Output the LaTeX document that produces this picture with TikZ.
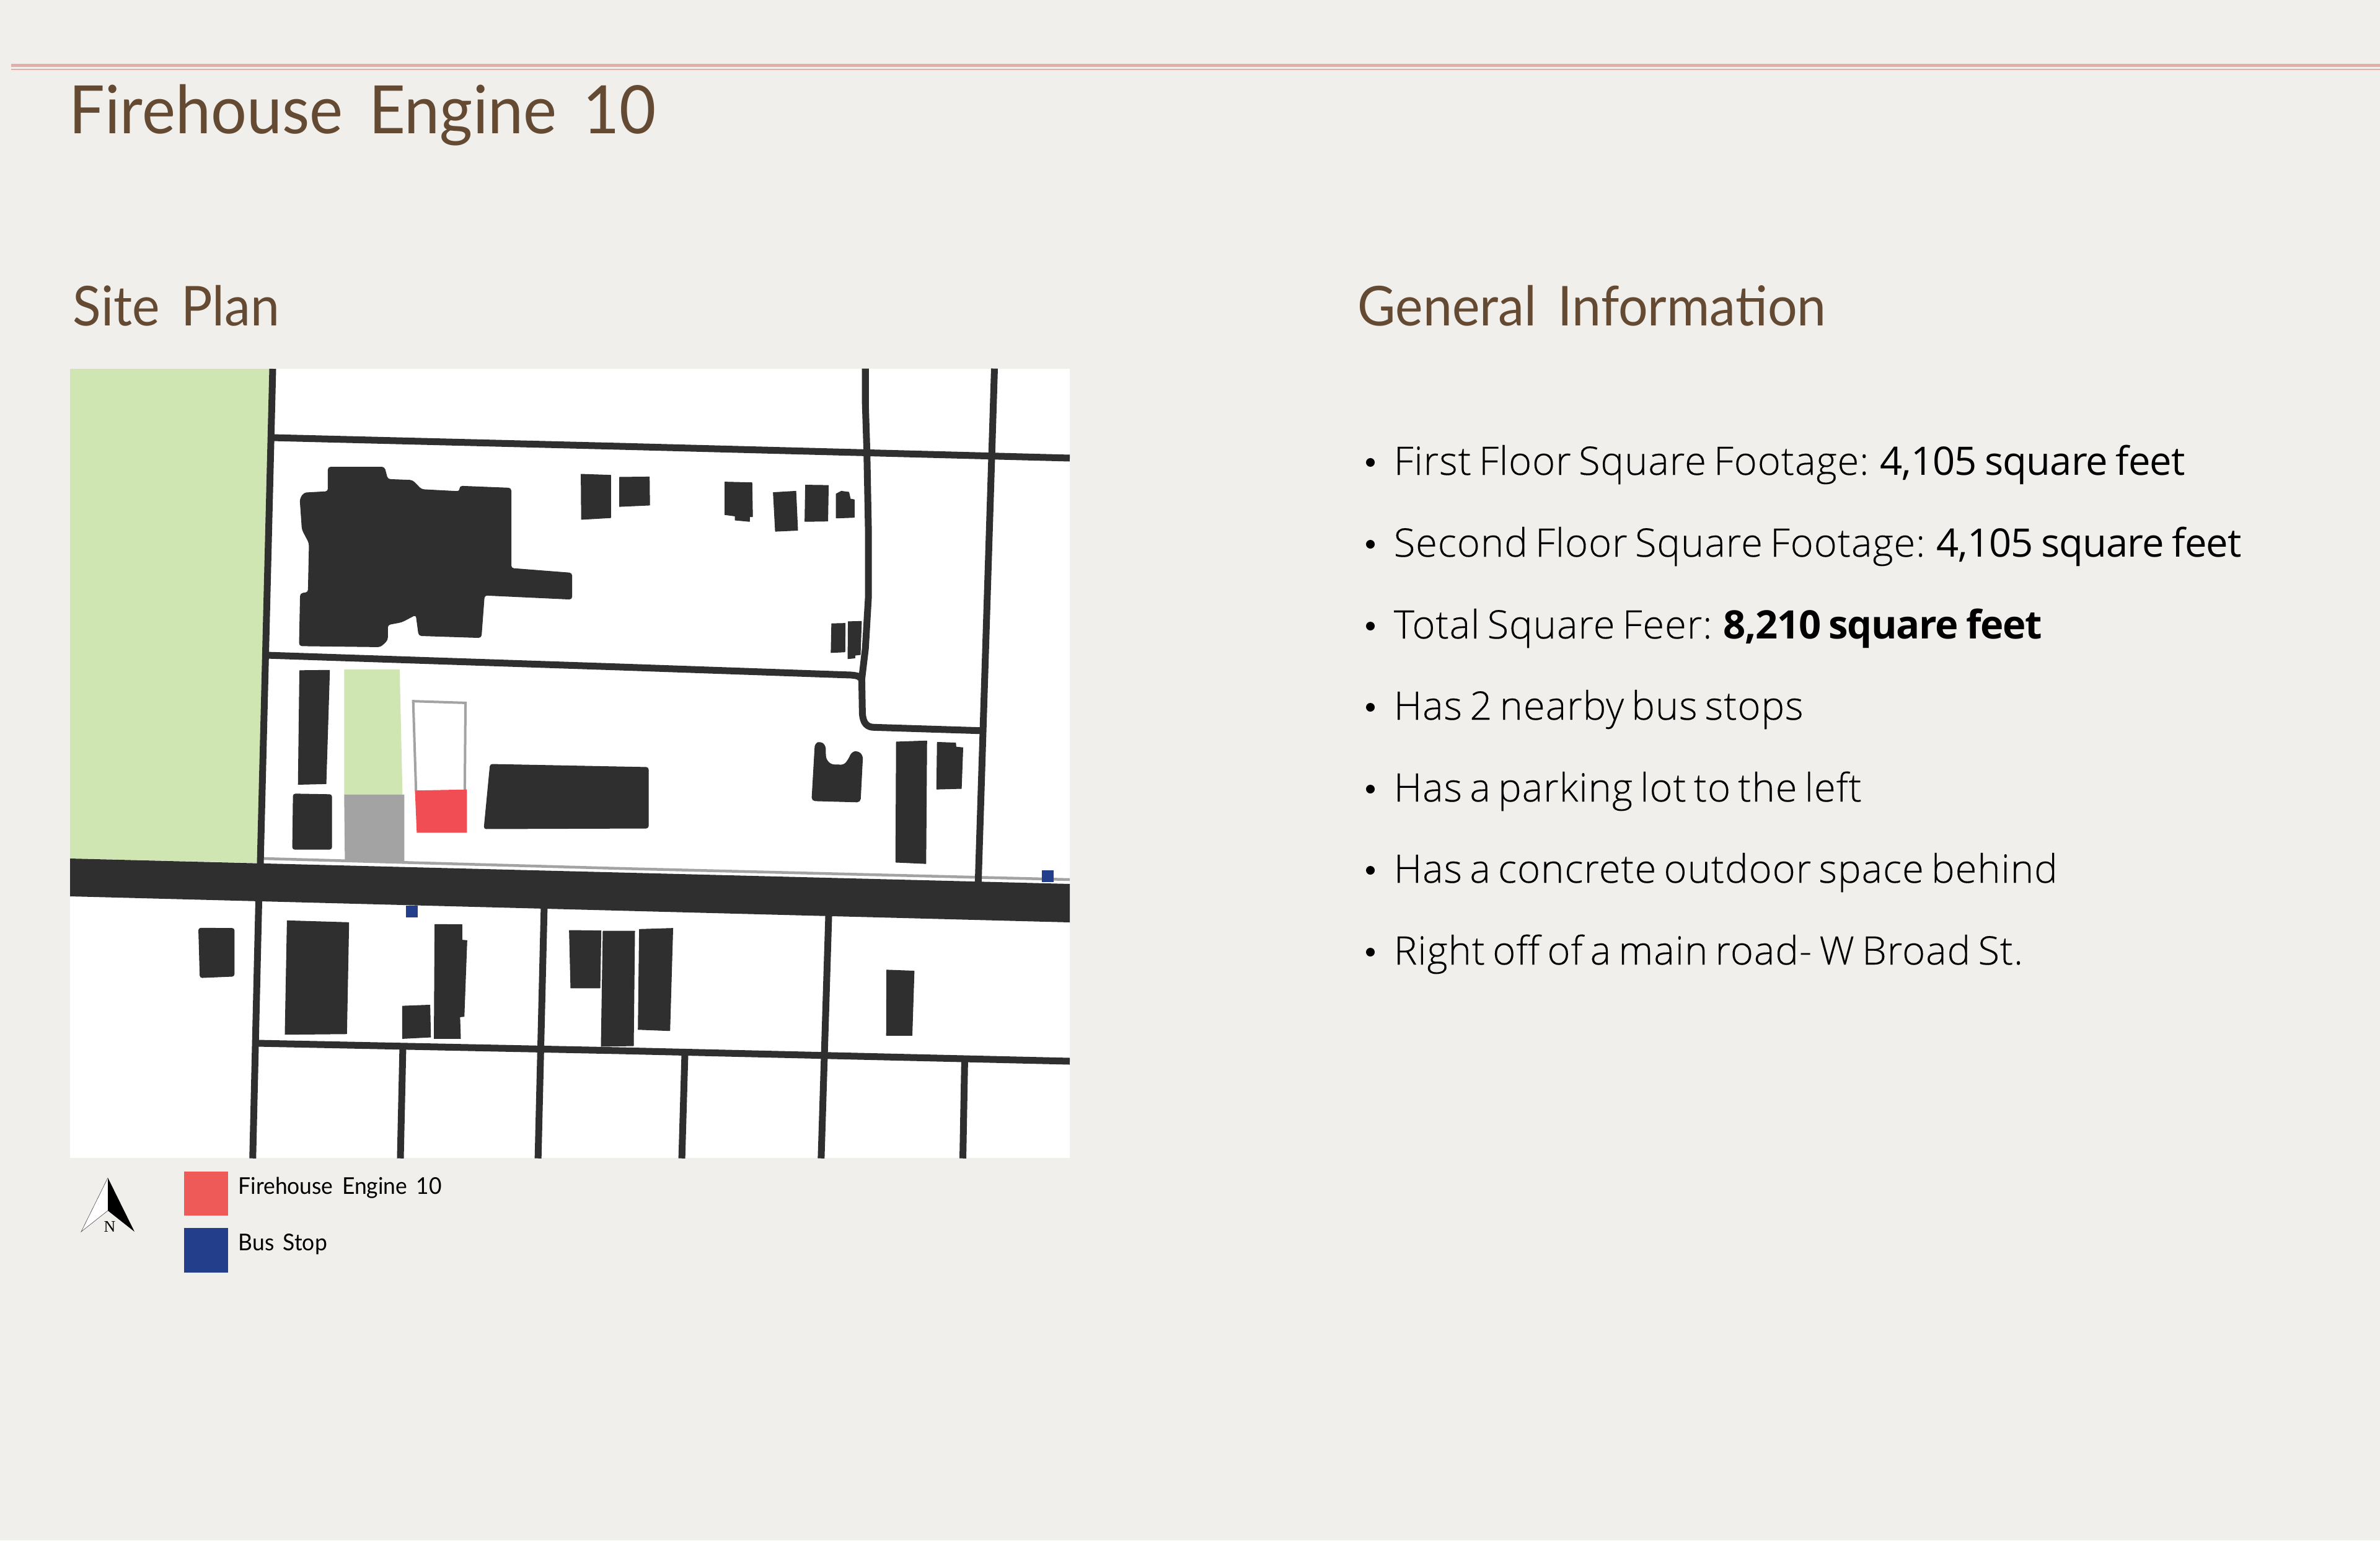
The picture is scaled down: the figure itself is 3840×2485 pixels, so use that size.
\documentclass[tikz,border=0pt]{standalone}
\usepackage{fontspec}
\setmainfont{Lato Light}[BoldFont=Lato]
\newfontfamily\headfont{Lato}[WordSpace=1.6,FakeStretch=0.95]
\newfontfamily\bodyfont{Open Sans Light}[LetterSpace=1.5,WordSpace=0.7,FakeBold=0.15]
\newfontfamily\bodymedfont{Open Sans}[LetterSpace=-1.4,WordSpace=0.8]
\newfontfamily\bodyboldfont{Open Sans}[LetterSpace=-2,WordSpace=0.8]
\newcommand{\medrun}[1]{{\bodymedfont #1}}
\newcommand{\boldrun}[1]{{\bodyboldfont\bfseries #1}}
\newfontfamily\nfont{Liberation Serif}
\definecolor{bgc}{HTML}{F0EFEB}
\definecolor{grass}{HTML}{CFE6B3}
\definecolor{dark}{HTML}{2F2F2F}
\definecolor{pave}{HTML}{A3A3A3}
\definecolor{redb}{HTML}{F04E54}
\definecolor{redl}{HTML}{EE5A58}
\definecolor{busb}{HTML}{233E8B}
\definecolor{brown}{HTML}{654A33}
\definecolor{rulec}{HTML}{E3AEA8}
\tikzset{
 z1/.style={shift={(1cm,-5.8cm)},x=0.0057405cm,y=-0.0054855cm},
 z2/.style={shift={(10cm,-5.8cm)},x=0.0048473cm,y=-0.0054855cm},
 z3/.style={shift={(1cm,-14cm)},x=0.0057405cm,y=-0.0033333cm},
 z4/.style={shift={(10cm,-14cm)},x=0.0048473cm,y=-0.0033333cm},
 road/.style={draw=dark,line width=0.11cm,line join=round},
 bld/.style={fill=dark,draw=dark,line width=0.01cm,line join=round},
 head/.style={anchor=base west,inner sep=0,text=brown,font=\headfont\fontsize{25.2pt}{25.2pt}\selectfont},
 info/.style={anchor=base west,inner sep=0,text=black,font=\bodyfont\fontsize{18.0pt}{18.0pt}\selectfont},
 bullet/.style={circle,fill=black,inner sep=0,minimum size=0.14cm},
 legend/.style={anchor=base west,inner sep=0,text=black,font=\headfont\fontsize{10.6pt}{10.6pt}\selectfont},
}
\begin{document}
\begin{tikzpicture}[x=0.01cm,y=-0.01cm]
\useasboundingbox (0,0) rectangle (3840,2485);
\fill[bgc] (0,0) rectangle (3840,2485);
% rule
\fill[rulec] (18,103) rectangle (3840,108);
\fill[rulec] (18,111) rectangle (3840,113);
% titles
\node[head,font=\headfont\fontsize{30.6pt}{30.6pt}\selectfont] (title) at (111,216) {Firehouse Engine 10};
\node[head] (siteplan) at (117,525) {Site Plan};
\node[head] (geninfo) at (2190,525) {General Information};
% map
\fill[white] (113,595) rectangle (1726,1868);
\fill[grass] (113,595) -- (435,595) -- (415,1392) -- (113,1385) -- cycle;
% pavement line
\draw[pave,line width=0.045cm] (425,1385) -- (1000,1401) -- (1726,1419);
% road
\fill[dark] (113,1385) -- (1726,1426) -- (1726,1488) -- (113,1446) -- cycle;
% streets
\draw[road] (440,595) -- (420,1393);
\draw[road] (439,706) -- (1000,720) -- (1726,739);
\draw[road] (430,1057) -- (1000,1076) -- (1373,1089) .. controls (1385,1090) and (1389,1092) .. (1389,1096);
\draw[road] (415,1683) -- (1000,1695) -- (1726,1712);
\begin{scope}[z2]
\draw[road] (815,26) -- (815,130) -- (820,270) -- (825,500) -- (825,700) -- (815,850) -- (803,940) -- (805,1040) .. controls (807,1070) and (820,1082) .. (845,1082) -- (1205,1092);
\draw[road] (1244,26) -- (1235,280) -- (1190,1540);
\end{scope}
\begin{scope}[z3]
\draw[road] (553,160) -- (536,1406);
\draw[road] (958,865) -- (951,1406);
\draw[road] (1355,195) -- (1338,1406);
\end{scope}
\begin{scope}[z4]
\draw[road] (693,232) -- (668,1406);
\draw[road] (215,905) -- (205,1406);
\draw[road] (1145,930) -- (1139,1406);
\end{scope}
% lot and buildings, upper left
\begin{scope}[z1]
\fill[bld,rounded corners=1.2pt] (748,316) -- (906,316) -- (915,352) -- (985,355) -- (1010,382) -- (1118,388) -- (1118,372) -- (1262,378) -- (1262,614) -- (1433,628) -- (1433,705) -- (1187,693) -- (1178,818) -- (1003,812) -- (995,750) -- (955,772) -- (915,780) -- (915,825) -- (895,845) -- (667,842) -- (670,688) -- (692,685) -- (695,540) -- (675,500) -- (669,410) -- (680,392) -- (748,388) -- cycle;
\fill[bld] (1459,337) -- (1542,340) -- (1542,465) -- (1460,470) -- cycle;
\fill[bld] (668,915) -- (752,914) -- (742,1248) -- (664,1250) -- cycle;
\fill[bld,rounded corners=1pt] (650,1278) -- (758,1280) -- (758,1441) -- (648,1441) -- cycle;
\fill[grass] (793,912) -- (949,912) -- (957,1280) -- (793,1280) -- cycle;
\fill[pave] (793,1280) -- (962,1280) -- (962,1478) -- (795,1478) -- cycle;
\draw[pave,line width=0.04cm] (995,1270) -- (987,1005) -- (1134,1010) -- (1132,1270);
\fill[redb] (992,1268) -- (1138,1265) -- (1138,1392) -- (997,1392) -- cycle;
\end{scope}
\fill[bld,rounded corners=1pt] (791,1233) -- (1046,1238) -- (1046,1336) -- (781,1337) -- cycle;
\begin{scope}[z2]
\fill[bld] (-2,346) -- (97,345) -- (98,428) -- (-2,432) -- cycle;
\fill[bld] (348,360) -- (438,362) -- (440,462) -- (430,462) -- (430,476) -- (382,472) -- (382,460) -- (348,456) -- cycle;
\fill[bld] (509,391) -- (584,387) -- (590,502) -- (516,505) -- cycle;
\fill[bld] (616,369) -- (692,370) -- (690,475) -- (614,476) -- cycle;
\fill[bld] (718,395) -- (735,387) -- (760,390) -- (765,410) -- (778,412) -- (778,464) -- (718,466) -- cycle;
\fill[bld] (703,777) -- (748,776) -- (747,860) -- (701,862) -- cycle;
\fill[bld] (758,771) -- (802,770) -- (798,868) -- (780,870) -- (780,878) -- (757,880) -- cycle;
\fill[bld,rounded corners=1.5pt] (648,1130) -- (665,1124) -- (682,1135) -- (683,1175) -- (700,1192) -- (745,1193) -- (760,1175) -- (770,1155) -- (790,1152) -- (806,1165) -- (798,1302) -- (637,1298) -- cycle;
\fill[bld] (918,1125) -- (1019,1122) -- (1016,1483) -- (916,1479) -- cycle;
\fill[bld] (1054,1126) -- (1115,1128) -- (1116,1140) -- (1139,1142) -- (1134,1262) -- (1052,1264) -- cycle;
\fill[busb] (1401,1503) rectangle (1441,1538);
\end{scope}
\begin{scope}[z3]
\fill[bld,rounded corners=1pt] (384,290) -- (484,291) -- (484,523) -- (388,530) -- cycle;
\fill[bld] (633,254) -- (806,263) -- (800,802) -- (627,805) -- cycle;
\fill[bld] (1048,272) -- (1124,273) -- (1124,348) -- (1138,350) -- (1130,718) -- (1118,720) -- (1120,825) -- (1046,825) -- cycle;
\fill[bld] (957,668) -- (1034,663) -- (1036,818) -- (957,825) -- cycle;
\fill[bld] (1426,301) -- (1515,303) -- (1512,580) -- (1430,580) -- cycle;
\fill[busb] (967,180) rectangle (1000,238);
\end{scope}
\fill[bld] (973,1502) -- (1024,1502) -- (1022,1687) -- (970,1688) -- cycle;
\begin{scope}[z4]
\fill[bld] (64,296) -- (175,291) -- (165,787) -- (60,781) -- cycle;
\fill[bld] (886,493) -- (977,498) -- (970,810) -- (885,810) -- cycle;
\end{scope}
% north arrow
\coordinate (napex) at (174,1900);
\coordinate (nleft) at (131,1987);
\coordinate (nright) at (217,1987);
\coordinate (nmid) at (174,1953);
\fill[white] (napex) -- (nleft) -- (nmid) -- cycle;
\draw[black!70,line width=0.006cm] (napex) -- (nleft) -- (nmid);
\fill[black] (napex) -- (nright) -- (nmid) -- cycle;
\node[inner sep=0,anchor=base,font=\nfont\fontsize{7.4pt}{7.4pt}\selectfont] (nlabel) at (177,1987) {N};
% legend
\fill[redl] (297,1890) rectangle (368,1961);
\fill[busb] (297,1981) rectangle (368,2053);
\node[legend] (lfire) at (384,1926) {Firehouse Engine 10};
\node[legend] (lbus) at (384,2017) {Bus Stop};
% info list
\foreach \n/\yy/\t in {a/766/{First Floor Square Footage: \medrun{4,105 square feet}},
 b/898/{Second Floor Square Footage: \medrun{4,105 square feet}},
 c/1030/{Total Square Feer: \boldrun{8,210 square feet}},
 d/1161/{Has 2 nearby bus stops},
 e/1293/{Has a parking lot to the left},
 f/1424/{Has a concrete outdoor space behind},
 g/1556/{Right off of a main road- W Broad St.}}{
 \node[bullet] (bul\n) at (2211,\yy-20) {};
 \node[info] (line\n) at (2248,\yy) {\t};
}
\end{tikzpicture}
\end{document}
